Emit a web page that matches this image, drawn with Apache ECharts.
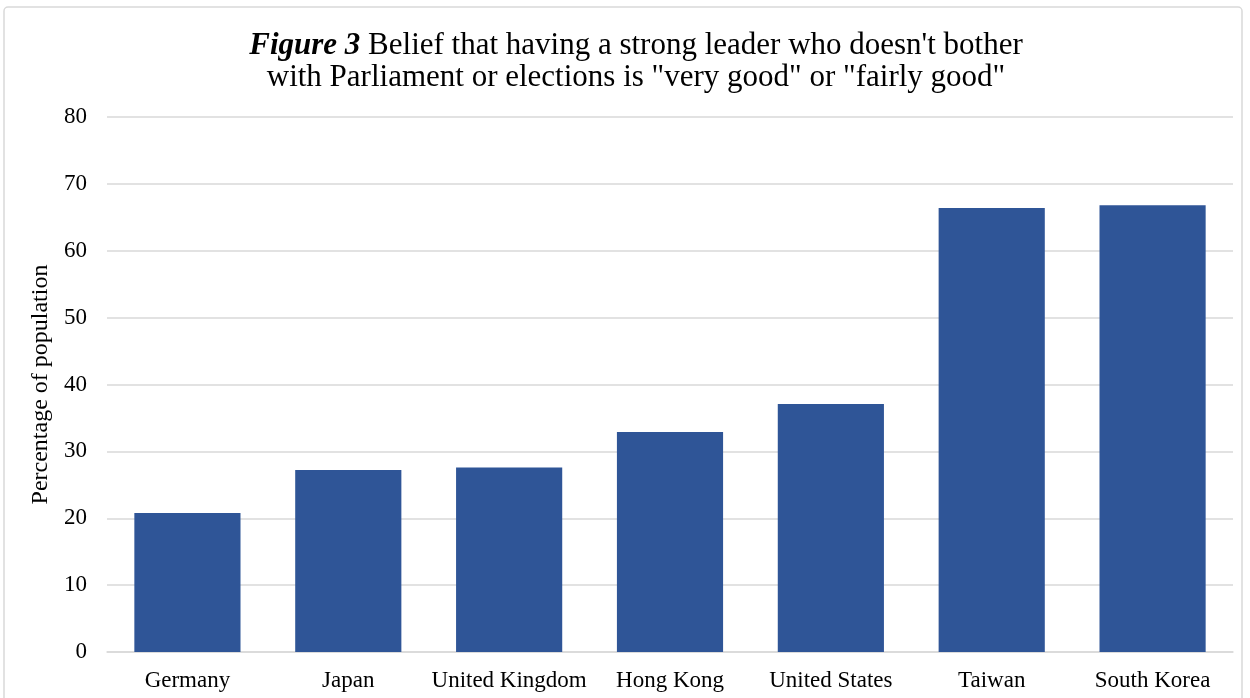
<!DOCTYPE html>
<html>
<head>
<meta charset="utf-8">
<script src="https://cdn.jsdelivr.net/npm/echarts@6/dist/echarts.min.js"></script>
<style>
html,body{margin:0;padding:0;background:#fff;}
#chart{width:1250px;height:698px;}
</style>
</head>
<body>
<div id="chart"></div>
<script>
const categories = ["Germany", "Japan", "United Kingdom", "Hong Kong", "United States", "Taiwan", "South Korea"];
const values = [20.8, 27.2, 27.6, 32.9, 37.1, 66.4, 66.8];
const yTicks = { min: 0, max: 80, interval: 10 };
const titleLine1 = "Belief that having a strong leader who doesn't bother";
const titleLine2 = "with Parliament or elections is \"very good\" or \"fairly good\"";
const yAxisName = "Percentage of population";

const serif = '"Liberation Serif", "Times New Roman", serif';
const chart = echarts.init(document.getElementById('chart'));
chart.setOption({
  animation: false,
  backgroundColor: '#fff',
  graphic: [{
    type: 'rect',
    shape: { x: 4, y: 7, width: 1238, height: 720, r: 4 },
    style: { fill: 'none', stroke: '#d9d9d9', lineWidth: 1.5 },
    silent: true
  }],
  title: {
    text: '{b|Figure 3} ' + titleLine1 + '\n' + titleLine2,
    left: 631,
    top: 25,
    textAlign: 'center',
    textStyle: {
      fontFamily: serif,
      fontSize: 31,
      fontWeight: 'normal',
      color: '#000',
      lineHeight: 32,
      rich: {
        b: { fontFamily: serif, fontSize: 31, fontWeight: 'bold', fontStyle: 'italic', color: '#000', lineHeight: 32 }
      }
    }
  },
  grid: { left: 107, right: 17, top: 117, bottom: 46, containLabel: false },
  xAxis: {
    type: 'category',
    data: categories,
    axisLine: { show: true, lineStyle: { color: '#d9d9d9', width: 1.5 } },
    axisTick: { show: false },
    axisLabel: { fontFamily: serif, fontSize: 23, color: '#000', margin: 17, interval: 0 }
  },
  yAxis: {
    type: 'value',
    min: yTicks.min, max: yTicks.max, interval: yTicks.interval,
    name: yAxisName,
    nameLocation: 'middle',
    nameGap: 54,
    nameTextStyle: { fontFamily: serif, fontSize: 24, color: '#000' },
    axisLine: { show: false },
    axisTick: { show: false },
    axisLabel: { fontFamily: serif, fontSize: 23, color: '#000', margin: 20 },
    splitLine: { lineStyle: { color: '#d9d9d9', width: 1.5 } }
  },
  series: [{
    type: 'bar',
    data: values,
    barCategoryGap: '34%',
    itemStyle: { color: '#2F5597' }
  }]
});
</script>
</body>
</html>
